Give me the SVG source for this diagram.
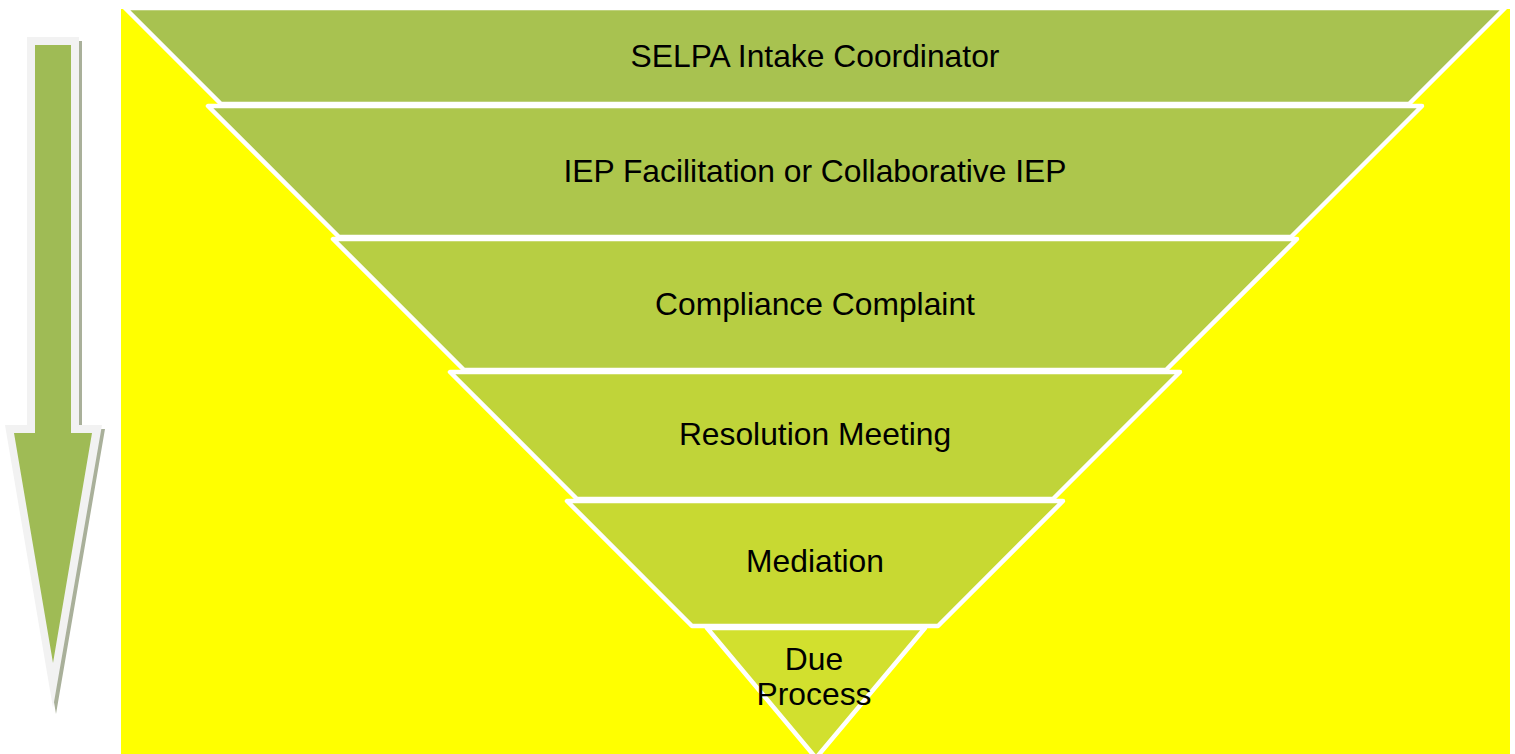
<svg xmlns="http://www.w3.org/2000/svg" width="1515" height="754" viewBox="0 0 1515 754">
<style>
.lvl{stroke:#FFFFFF;stroke-width:4.5;stroke-linejoin:round}
.t{font-family:"Liberation Sans",Arial,sans-serif;font-size:31.8px;fill:#000000;text-anchor:middle}
</style>
<rect x="0" y="0" width="1515" height="754" fill="#FFFFFF"/>
<rect id="background" x="121" y="9" width="1389" height="745" fill="#FFFF00"/>
<g id="arrow">
<polygon points="30,41 82,41 82,429 105,429 56,714 8,429 30,429" fill="#A9B09A"/>
<polygon points="27,37 79,37 79,425 102,425 53,708 5,425 27,425" fill="#F2F2F2"/>
<polygon points="35,45 71,45 71,433 92,433 53,663 14,433 35,433" fill="#9FBB55"/>
</g>
<g id="level1">
<polygon class="lvl" points="125,8 1505,8 1409,104 221,104" fill="#A8C250"/>
<text class="t" x="815" y="67">SELPA Intake Coordinator</text>
</g>
<g id="level2">
<polygon class="lvl" points="208,106 1422,106 1291,237 339,237" fill="#ADC64C"/>
<text class="t" x="815" y="182">IEP Facilitation or Collaborative IEP</text>
</g>
<g id="level3">
<polygon class="lvl" points="333,239 1297,239 1166,370 464,370" fill="#B7CE43"/>
<text class="t" x="815" y="315">Compliance Complaint</text>
</g>
<g id="level4">
<polygon class="lvl" points="450,372 1180,372 1053,499 577,499" fill="#C0D439"/>
<text class="t" x="815" y="445">Resolution Meeting</text>
</g>
<g id="level5">
<polygon class="lvl" points="567,501 1063,501 938,626 692,626" fill="#C8D932"/>
<text class="t" x="815" y="572">Mediation</text>
</g>
<g id="level6">
<polygon class="lvl" points="707,628 925,628 816,758" fill="#D2E02E"/>
<text class="t" x="814" y="670">Due</text>
<text class="t" x="814" y="705">Process</text>
</g>
<g id="connectors"></g>
</svg>
